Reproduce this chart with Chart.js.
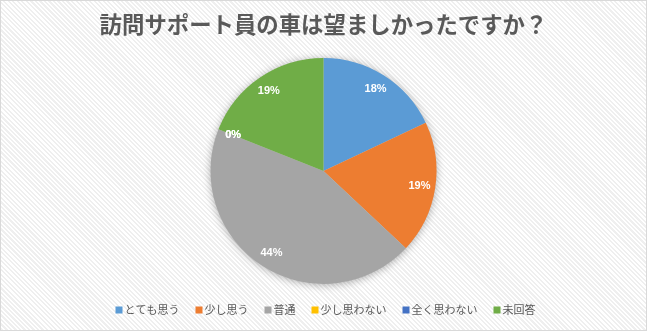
<!DOCTYPE html>
<html lang="ja">
<head>
<meta charset="utf-8">
<script src="https://cdn.jsdelivr.net/npm/chart.js@4/dist/chart.umd.min.js"></script>
<style>
  html, body { margin: 0; padding: 0; background: #fff; }
  #wrap {
    position: relative; width: 647px; height: 331px;
    background: repeating-linear-gradient(45deg, #ffffff 0 1.6px, #efefef 1.6px 3.2px);
  }
  #wrap::after {
    content: ''; position: absolute; inset: 0;
    border: 1px solid #d9d9d9; pointer-events: none;
  }
  canvas { display: block; }
</style>
</head>
<body>
<div id="wrap"><canvas id="pie" width="647" height="331"></canvas></div>
<script>
  const TITLE = '訪問サポート員の車は望ましかったですか？';
  const categories = ['とても思う', '少し思う', '普通', '少し思わない', '全く思わない', '未回答'];
  const percents = [18, 19, 44, 0, 0, 19];
  const sliceColors = ['#5b9bd5', '#ed7d31', '#a5a5a5', '#ffc000', '#4472c4', '#70ad47'];

  const TEXT = '#595959';
  const JP = '"Noto Sans CJK JP", "Noto Sans", sans-serif';

  // soft drop shadow under the whole pie
  const pieShadow = {
    id: 'pieShadow',
    beforeDatasetsDraw(chart) {
      const arc = chart.getDatasetMeta(0).data[0];
      if (!arc) return;
      const { x, y, outerRadius } = arc.getProps(['x', 'y', 'outerRadius'], true);
      const ctx = chart.ctx;
      ctx.save();
      ctx.shadowColor = 'rgba(0,0,0,0.35)';
      ctx.shadowBlur = 9;
      ctx.shadowOffsetY = 1;
      ctx.fillStyle = '#d0d0d0';
      ctx.beginPath();
      ctx.arc(x, y, outerRadius - 0.5, 0, Math.PI * 2);
      ctx.fill();
      ctx.restore();
    }
  };

  // percentage labels near the outer edge of each slice
  const sliceLabels = {
    id: 'sliceLabels',
    afterDatasetsDraw(chart) {
      const ctx = chart.ctx;
      const meta = chart.getDatasetMeta(0);
      ctx.save();
      ctx.font = 'bold 11px "Liberation Sans", "Noto Sans", sans-serif';
      ctx.fillStyle = '#ffffff';
      ctx.textAlign = 'center';
      ctx.textBaseline = 'middle';
      meta.data.forEach((arc, i) => {
        const p = arc.getProps(['x', 'y', 'startAngle', 'endAngle', 'outerRadius'], true);
        const mid = (p.startAngle + p.endAngle) / 2;
        const r = p.outerRadius * 0.86;
        ctx.fillText(percents[i] + '%', p.x + Math.cos(mid) * r, p.y + Math.sin(mid) * r);
      });
      ctx.restore();
    }
  };

  // compact legend row: small square, tight gap, label
  const compactLegend = {
    id: 'compactLegend',
    afterDraw(chart) {
      const ctx = chart.ctx;
      const box = 7, gap = 2, spacing = 16, y = 310;
      ctx.save();
      ctx.font = '11px ' + JP;
      ctx.textBaseline = 'middle';
      ctx.textAlign = 'left';
      const widths = categories.map(t => ctx.measureText(t).width);
      const total = widths.reduce((s, w) => s + box + gap + w, 0) + spacing * (categories.length - 1);
      let x = (chart.width - total) / 2 + 2;
      categories.forEach((t, i) => {
        ctx.fillStyle = sliceColors[i];
        ctx.fillRect(x, y - box / 2, box, box);
        ctx.fillStyle = TEXT;
        ctx.fillText(t, x + box + gap, y);
        x += box + gap + widths[i] + spacing;
      });
      ctx.restore();
    }
  };

  new Chart(document.getElementById('pie'), {
    type: 'pie',
    data: {
      labels: categories,
      datasets: [{
        data: percents,
        backgroundColor: sliceColors,
        borderWidth: 0,
        radius: 113,
      }]
    },
    options: {
      responsive: false,
      animation: false,
      layout: { padding: { bottom: 42 } },
      plugins: {
        title: {
          display: true,
          text: TITLE,
          color: TEXT,
          font: { family: JP, size: 22.4, weight: 'bold' },
          padding: { top: 11, bottom: 15 },
        },
        legend: { display: false },
        tooltip: { enabled: false },
      }
    },
    plugins: [pieShadow, sliceLabels, compactLegend]
  });
</script>
</body>
</html>
